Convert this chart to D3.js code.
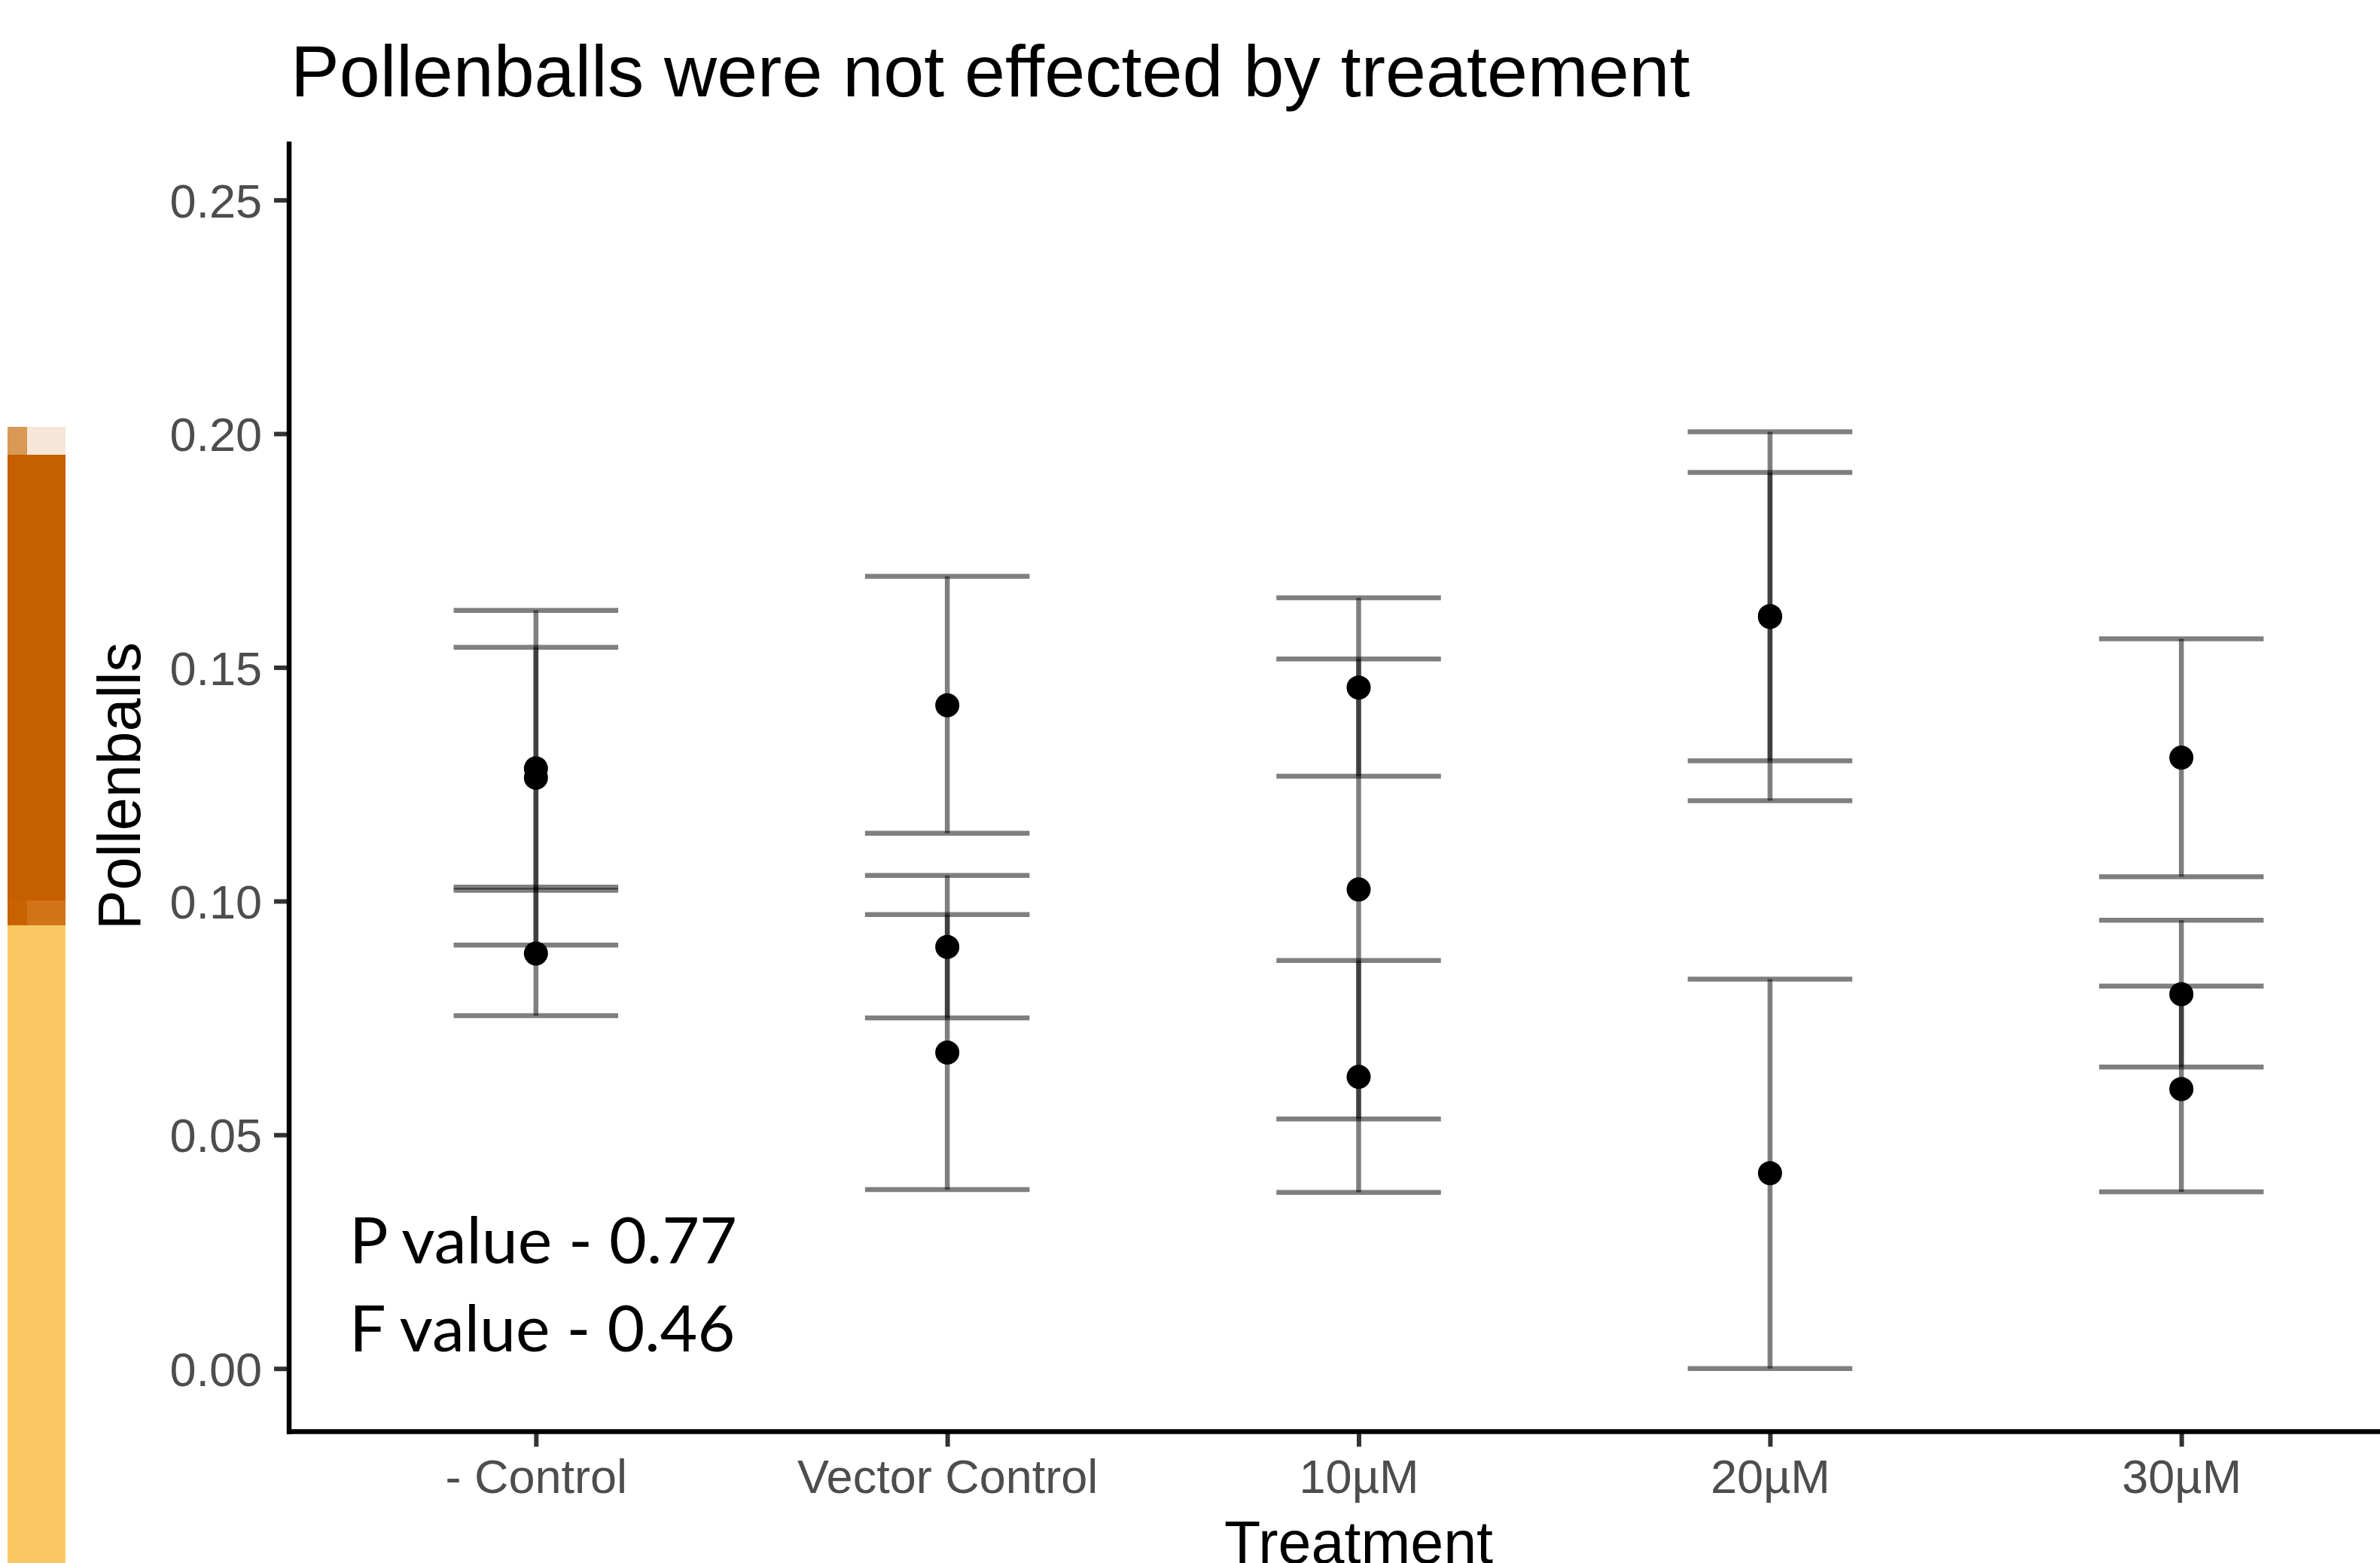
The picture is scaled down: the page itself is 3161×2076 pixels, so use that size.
<!DOCTYPE html>
<html>
<head>
<meta charset="utf-8">
<script src="https://cdn.jsdelivr.net/npm/d3@7"></script>
<style>
  body { margin: 0; background: #fff; }
  text { font-family: "Liberation Sans", Arial, sans-serif; }
</style>
</head>
<body>
<svg id="graph"></svg>
<script>
// treatment groups on the x axis
var categories = ["- Control", "Vector Control", "10\u00b5M", "20\u00b5M", "30\u00b5M"];

// one point per replicate: which group, the value, and its error bar ends
var groupOf   = [0, 0, 0, 1, 1, 1, 2, 2, 2, 3, 3, 3, 4, 4, 4];
var pollen    = [0.1284, 0.1264, 0.0888, 0.1419, 0.0902, 0.0676, 0.1457, 0.1025, 0.0624,
                 0.1610, 0.1608, 0.0418, 0.1307, 0.0801, 0.0598];
var lowerBar  = [0.1023, 0.0906, 0.0755, 0.1145, 0.0750, 0.0383, 0.1267, 0.0534, 0.0377,
                 0.1215, 0.1300, 0.0000, 0.1052, 0.0645, 0.0378];
var upperBar  = [0.1543, 0.1622, 0.1030, 0.1695, 0.1055, 0.0971, 0.1649, 0.1518, 0.0873,
                 0.2004, 0.1917, 0.0833, 0.1561, 0.0959, 0.0818];

var yTicks = [0, 0.05, 0.10, 0.15, 0.20, 0.25];
var statLines = ["P value - 0.77", "F value - 0.46"];

var W = 3161, H = 2076;
var svg = d3.select("#graph")
  .attr('width', W)
  .attr('height', H)

svg.append('rect').attr('width', W).attr('height', H).attr('fill', '#fff')

// the coloured strip at the left edge of the picture
var strip = [
  [10, 567, 26, 38, '#DA9855'], [36, 567, 51, 38, '#F5E6D7'],
  [10, 604, 77, 593, '#C65F00'],
  [10, 1196, 26, 34, '#C86200'], [36, 1196, 51, 34, '#D27317'],
  [10, 1229, 77, 847, '#FBC964']
];
svg.selectAll('.strip').data(strip).enter().append('rect')
  .attr('x', function(d){ return d[0] })
  .attr('y', function(d){ return d[1] })
  .attr('width', function(d){ return d[2] })
  .attr('height', function(d){ return d[3] })
  .attr('fill', function(d){ return d[4] })

// panel edges (names chosen so they don't clash with window.top)
var pLeft = 384, pRight = 3225, pTop = 188, pBottom = 1901.5;

var x = d3.scalePoint().domain(categories).range([pLeft, pRight]).padding(0.6);
var y = d3.scaleLinear().domain([-0.0135, 0.2625]).range([pBottom, pTop]);
var capHalf = x.step() * 0.2;

var rows = pollen.map(function(v, i) {
  return {cat: categories[groupOf[i]], v: v, lo: lowerBar[i], hi: upperBar[i]};
});

// error bars, half transparent so overlaps look darker
var bars = svg.append('g').attr('stroke', '#000').attr('stroke-opacity', 0.5).attr('stroke-width', 6.5)
rows.forEach(function(d) {
  var cx = x(d.cat);
  bars.append('line').attr('x1', cx - capHalf).attr('x2', cx + capHalf).attr('y1', y(d.hi)).attr('y2', y(d.hi))
  bars.append('line').attr('x1', cx).attr('x2', cx).attr('y1', y(d.hi)).attr('y2', y(d.lo))
  bars.append('line').attr('x1', cx - capHalf).attr('x2', cx + capHalf).attr('y1', y(d.lo)).attr('y2', y(d.lo))
});

svg.append('g').selectAll('circle').data(rows).enter().append('circle')
  .attr('cx', function(d){ return x(d.cat) })
  .attr('cy', function(d){ return y(d.v) })
  .attr('r', 16)
  .attr('fill', '#000')

// axes
var yAxis = svg.append('g')
  .attr('transform', 'translate(' + pLeft + ',0)')
  .call(d3.axisLeft(y).tickValues(yTicks).tickFormat(d3.format('.2f')).tickSize(20).tickPadding(16))
var xAxis = svg.append('g')
  .attr('transform', 'translate(0,' + pBottom + ')')
  .call(d3.axisBottom(x).tickSize(20).tickPadding(14))

;[yAxis, xAxis].forEach(function(a) {
  a.select('.domain').remove()
  a.selectAll('.tick line').attr('stroke', '#333').attr('stroke-width', 6)
  a.selectAll('.tick text').attr('fill', '#4D4D4D').style('font-size', '63px')
    .style('font-family', '"Liberation Sans", Arial, sans-serif')
})
yAxis.selectAll('.tick text').attr('dy', '0.36em')
xAxis.selectAll('.tick text').attr('dy', '0.76em')

svg.append('line').attr('x1', pLeft).attr('x2', pLeft).attr('y1', pTop).attr('y2', pBottom + 3.5)
  .attr('stroke', '#000').attr('stroke-width', 6.5)
svg.append('line').attr('x1', pLeft - 3).attr('x2', W).attr('y1', pBottom).attr('y2', pBottom)
  .attr('stroke', '#000').attr('stroke-width', 6.5)

// titles
svg.append('text').attr('x', 386).attr('y', 128).style('font-size', '97px').attr('fill', '#000')
  .text('Pollenballs were not effected by treatement')
svg.append('text').attr('transform', 'translate(186,1044) rotate(-90)').attr('text-anchor', 'middle')
  .style('font-size', '79px').attr('fill', '#000').text('Pollenballs')
svg.append('text').attr('x', (pLeft + pRight) / 2).attr('y', 2076).attr('text-anchor', 'middle')
  .style('font-size', '79px').attr('fill', '#000').text('Treatment')

// stats note
svg.selectAll('.stat').data(statLines).enter().append('text')
  .attr('x', 464)
  .attr('y', function(d, i){ return 1678 + i * 117 })
  .style('font-family', 'Lato, "Open Sans", sans-serif')
  .style('font-size', '86px')
  .attr('fill', '#000')
  .text(function(d){ return d })
</script>
</body>
</html>
